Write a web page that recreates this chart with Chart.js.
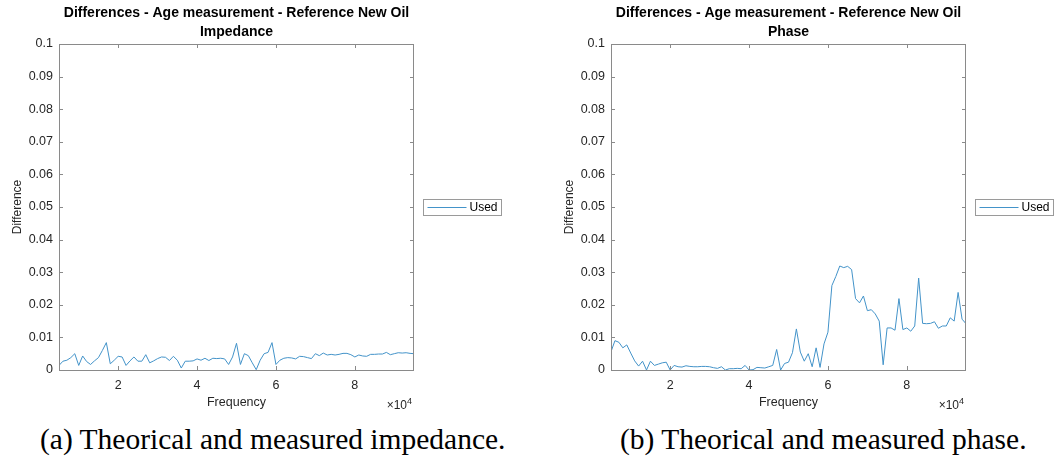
<!DOCTYPE html>
<html>
<head>
<meta charset="utf-8">
<script src="https://cdn.jsdelivr.net/npm/chart.js@4/dist/chart.umd.min.js"></script>
<style>
  body { margin: 0; background: #fff; width: 1054px; height: 457px; overflow: hidden; position: relative; }
  .plot { position: absolute; top: 0; height: 410px; }
  .cap { position: absolute; top: 423px; font-family: "Liberation Serif", "DejaVu Serif", serif; font-size: 29.5px; color: #000; white-space: nowrap; }
</style>
</head>
<body>
<div class="plot" style="left:0;width:527px"><canvas id="chartImpedance"></canvas></div>
<div class="plot" style="left:552px;width:502px"><canvas id="chartPhase"></canvas></div>
<div class="cap" id="capA" style="left:40px">(a) Theorical and measured impedance.</div>
<div class="cap" id="capB" style="left:620px">(b) Theorical and measured phase.</div>
<script>
// frequency samples (Hz)
const frequency = [5000, 6000, 7000, 8000, 9000, 10000, 11000, 12000, 13000, 14000,
  15000, 16000, 17000, 18000, 19000, 20000, 21000, 22000, 23000, 24000,
  25000, 26000, 27000, 28000, 29000, 30000, 31000, 32000, 33000, 34000,
  35000, 36000, 37000, 38000, 39000, 40000, 41000, 42000, 43000, 44000,
  45000, 46000, 47000, 48000, 49000, 50000, 51000, 52000, 53000, 54000,
  55000, 56000, 57000, 58000, 59000, 60000, 61000, 62000, 63000, 64000,
  65000, 66000, 67000, 68000, 69000, 70000, 71000, 72000, 73000, 74000,
  75000, 76000, 77000, 78000, 79000, 80000, 81000, 82000, 83000, 84000,
  85000, 86000, 87000, 88000, 89000, 90000, 91000, 92000, 93000, 94000, 95000];

const impedanceUsed = [0.0014, 0.0027, 0.0030, 0.0038, 0.0050, 0.0014, 0.0043, 0.0026, 0.0017, 0.0028,
  0.0038, 0.0060, 0.0084, 0.0019, 0.0030, 0.0042, 0.0040, 0.0014, 0.0028, 0.0040,
  0.0027, 0.0027, 0.0047, 0.0022, 0.0028, 0.0035, 0.0040, 0.0039, 0.0029, 0.0042,
  0.0030, 0.0006, 0.0027, 0.0027, 0.0028, 0.0034, 0.0030, 0.0036, 0.0029, 0.0036,
  0.0035, 0.0036, 0.0034, 0.0017, 0.0040, 0.0082, 0.0017, 0.0050, 0.0044, 0.0022,
  0.0001, 0.0030, 0.0050, 0.0054, 0.0084, 0.0017, 0.0030, 0.0036, 0.0038, 0.0037,
  0.0034, 0.0042, 0.0041, 0.0038, 0.0035, 0.0050, 0.0044, 0.0052, 0.0046, 0.0048,
  0.0046, 0.0048, 0.0051, 0.0051, 0.0047, 0.0040, 0.0046, 0.0043, 0.0042, 0.0048,
  0.0048, 0.0049, 0.0049, 0.0054, 0.0047, 0.0050, 0.0053, 0.0052, 0.0053, 0.0051, 0.0050];

const phaseUsed = [0.0056, 0.0090, 0.0085, 0.0068, 0.0077, 0.0052, 0.0028, 0.0012, 0.0027, 0.0000,
  0.0027, 0.0014, 0.0018, 0.0022, 0.0024, 0.0000, 0.0014, 0.0010, 0.0009, 0.0013,
  0.0011, 0.0010, 0.0010, 0.0011, 0.0011, 0.0010, 0.0007, 0.0005, 0.0010, 0.0000,
  0.0004, 0.0004, 0.0005, 0.0004, 0.0014, 0.0000, 0.0001, 0.0008, 0.0007, 0.0006,
  0.0010, 0.0014, 0.0063, 0.0000, 0.0020, 0.0024, 0.0053, 0.0126, 0.0055, 0.0027,
  0.0050, 0.0010, 0.0068, 0.0008, 0.0080, 0.0116, 0.0259, 0.0287, 0.0319, 0.0314,
  0.0318, 0.0308, 0.0219, 0.0206, 0.0227, 0.0182, 0.0185, 0.0172, 0.0150, 0.0016,
  0.0129, 0.0129, 0.0122, 0.0219, 0.0124, 0.0129, 0.0119, 0.0135, 0.0282, 0.0143,
  0.0142, 0.0143, 0.0148, 0.0128, 0.0135, 0.0135, 0.0160, 0.0150, 0.0238, 0.0156, 0.0142];

const xTicks = [20000, 40000, 60000, 80000];
const yTicks = [0, 0.01, 0.02, 0.03, 0.04, 0.05, 0.06, 0.07, 0.08, 0.09, 0.1];
const titleLine1 = "Differences - Age measurement - Reference New Oil";
const seriesLabel = "Used";

const FONT = "'Liberation Sans', Arial, Helvetica, sans-serif";
const AXIS_COLOR = "#8a8a8a";
const TEXT_COLOR = "#262626";
const LINE_COLOR = "#4393c9";

// box, inward ticks, x10^4 note and boxed legend, like matlab
const matlabAxes = {
  id: "matlabAxes",
  afterDraw(chart) {
    const ctx = chart.ctx;
    const a = chart.chartArea;
    const xs = chart.scales.x, ys = chart.scales.y;
    ctx.save();
    ctx.strokeStyle = AXIS_COLOR;
    ctx.lineWidth = 1;
    ctx.strokeRect(Math.round(a.left) + 0.5, Math.round(a.top) + 0.5,
      Math.round(a.right - a.left) - 1, Math.round(a.bottom - a.top));
    ctx.beginPath();
    xTicks.forEach(v => {
      const px = Math.round(xs.getPixelForValue(v)) + 0.5;
      ctx.moveTo(px, a.bottom); ctx.lineTo(px, a.bottom - 4);
      ctx.moveTo(px, a.top); ctx.lineTo(px, a.top + 4);
    });
    yTicks.forEach(v => {
      const py = Math.round(ys.getPixelForValue(v)) + 0.5;
      ctx.moveTo(a.left, py); ctx.lineTo(a.left + 4, py);
      ctx.moveTo(a.right, py); ctx.lineTo(a.right - 4, py);
    });
    ctx.stroke();

    // exponent note
    ctx.fillStyle = TEXT_COLOR;
    ctx.textBaseline = "alphabetic";
    ctx.textAlign = "left";
    const exp = "4";
    ctx.font = "9px " + FONT;
    const ew = ctx.measureText(exp).width;
    ctx.font = "12px " + FONT;
    const base = "\u00d710";
    const bw = ctx.measureText(base).width;
    const bx = a.right - 2 - ew - bw;
    ctx.fillText(base, bx, a.bottom + 39);
    ctx.font = "9px " + FONT;
    ctx.fillText(exp, bx + bw, a.bottom + 34);

    // legend
    const lx = Math.round(a.right) + 9.5, ly = Math.round((a.top + a.bottom) / 2) - 7.5;
    ctx.fillStyle = "#fff";
    ctx.fillRect(lx, ly, 78, 16);
    ctx.strokeStyle = "#9a9a9a";
    ctx.strokeRect(lx, ly, 78, 16);
    ctx.strokeStyle = LINE_COLOR;
    ctx.beginPath();
    ctx.moveTo(lx + 4, ly + 8); ctx.lineTo(lx + 43, ly + 8);
    ctx.stroke();
    ctx.fillStyle = "#000";
    ctx.font = "12px " + FONT;
    ctx.textBaseline = "middle";
    ctx.fillText(chart.data.datasets[0].label, lx + 46, ly + 8.5);
    ctx.restore();
  }
};

function makeChart(id, subtitle, values, rightPad) {
  const points = frequency.map((f, i) => ({ x: f, y: values[i] }));
  return new Chart(id, {
    type: "line",
    data: {
      datasets: [
        {
          label: seriesLabel,
          data: points,
          borderColor: LINE_COLOR,
          backgroundColor: LINE_COLOR,
          borderWidth: 1,
          pointRadius: 0,
          tension: 0,
        },
      ],
    },
    options: {
      responsive: true,
      maintainAspectRatio: false,
      animation: false,
      layout: { padding: { left: 0, right: rightPad, top: 0, bottom: 0 } },
      plugins: {
        legend: { display: false },
        tooltip: { enabled: false },
        title: {
          display: true,
          fullSize: false,
          text: [titleLine1, subtitle],
          color: "#000",
          font: { family: FONT, size: 14, weight: "bold", lineHeight: 19 / 14 },
          padding: { top: 4, bottom: 2 },
        },
      },
      scales: {
        x: {
          type: "linear",
          min: 5000,
          max: 95000,
          afterBuildTicks: s => { s.ticks = xTicks.map(v => ({ value: v })); },
          afterFit: s => { s.height = 40; },
          grid: { display: false, drawTicks: false },
          border: { display: false },
          ticks: {
            color: TEXT_COLOR,
            padding: 8,
            maxRotation: 0,
            font: { family: FONT, size: 12.5 },
            callback: v => String(v / 10000),
          },
          title: {
            display: true,
            text: "Frequency",
            color: TEXT_COLOR,
            font: { family: FONT, size: 12.5 },
            padding: { top: 0, bottom: 0 },
          },
        },
        y: {
          min: 0,
          max: 0.1,
          afterBuildTicks: s => { s.ticks = yTicks.map(v => ({ value: v })); },
          afterFit: s => { s.width = 59; },
          grid: { display: false, drawTicks: false },
          border: { display: false },
          ticks: {
            color: TEXT_COLOR,
            padding: 6,
            font: { family: FONT, size: 12.5 },
            callback: v => String(+v.toFixed(2)),
          },
          title: {
            display: true,
            text: "Difference",
            color: TEXT_COLOR,
            font: { family: FONT, size: 12 },
            padding: { top: 10, bottom: 0 },
          },
        },
      },
    },
    plugins: [matlabAxes],
  });
}

makeChart("chartImpedance", "Impedance", impedanceUsed, 113);
makeChart("chartPhase", "Phase", phaseUsed, 88);
</script>
</body>
</html>
